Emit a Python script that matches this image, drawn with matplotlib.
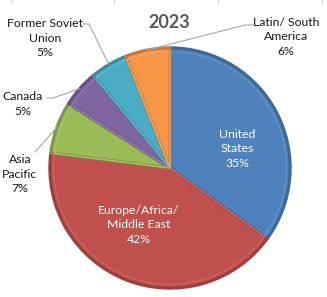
import numpy as np
import matplotlib.pyplot as plt
import matplotlib.colors as mcolors

# data
regions = ["United\nStates", "Europe/Africa/\nMiddle East", "Asia\nPacific",
           "Canada", "Former Soviet\nUnion", "Latin/ South\nAmerica"]
shares = [35, 42, 7, 5, 5, 6]
title = "2023"

colors = ["#4F81BD", "#C0504D", "#9BBB59", "#8064A2", "#4BACC6", "#F79646"]

def shade(c, f):
    r, g, b = mcolors.to_rgb(c)
    if f < 1:
        return (r * f, g * f, b * f)
    return tuple(v + (1 - v) * (f - 1) for v in (r, g, b))

# pixel layout of the original (center, radius)
W, H = 327, 297
cx, cy, R = 170, 168, 122

def px(x, y):
    return ((x - cx) / R, (cy - y) / R)

fig = plt.figure(figsize=(W / 100, H / 100), dpi=100)
ax = fig.add_axes([0, 0, 1, 1])

wedges, _ = ax.pie(shares, colors=colors, startangle=90, counterclock=False,
                   radius=0.985,
                   wedgeprops=dict(linewidth=2.2, joinstyle="round"))
for w, c in zip(wedges, colors):
    w.set_edgecolor(shade(c, 0.8))

# soft inner bevel like the Excel style
inner, _ = ax.pie(shares, colors=["none"] * len(shares), startangle=90,
                  counterclock=False, radius=0.955,
                  wedgeprops=dict(linewidth=1.0, fill=False))
for w, c in zip(inner, colors):
    w.set_edgecolor(shade(c, 1.12))

# pie() resets the limits, so set them afterwards
ax.set_xlim(-cx / R, (W - cx) / R)
ax.set_ylim(-(H - cy) / R, cy / R)
ax.set_aspect("equal")
ax.axis("off")

font = "Lato"
labels = [f"{r}\n{s}%" for r, s in zip(regions, shares)]

# inside labels (white)
inside = {0: (237, 149), 1: (139, 225)}
# outside labels: text center, elbow start of leader line
outside = {2: ((20, 174), (35, 152)),
           3: ((23, 104), (53, 98)),
           4: ((45, 38), (89, 24)),
           5: ((286, 37), (245, 25))}

for i, (x, y) in inside.items():
    ax.text(*px(x, y), labels[i], ha="center", va="center", color="white",
            fontsize=8.8, family=font, linespacing=1.4)

for i, ((tx, ty), (lx, ly)) in outside.items():
    ax.text(*px(tx, ty), labels[i], ha="center", va="center", color="#1a1a1a",
            fontsize=8.8, family=font, linespacing=1.4)
    w = wedges[i]
    mid = np.deg2rad((w.theta1 + w.theta2) / 2)
    ex, ey = np.cos(mid) * 0.985, np.sin(mid) * 0.985
    sx, sy = px(lx, ly)
    pts_x, pts_y = [sx, ex], [sy, ey]
    if i in (3, 4):
        hx, _ = px(lx - 6, ly)
        pts_x, pts_y = [hx, sx, ex], [sy, sy, ey]
    elif i == 5:
        hx, _ = px(lx + 8, ly)
        pts_x, pts_y = [hx, sx, ex], [sy, sy, ey]
    ax.plot(pts_x, pts_y, color="#a6a6a6", linewidth=0.8)

ax.text(*px(169, 22), title, ha="center", va="center", color="#595959",
        fontsize=13, fontweight="bold", family=font)

# faint cell borders at the top edge
for x in (11, 114, 218, 322):
    fig.add_artist(plt.Line2D([x / W, x / W], [1 - 3 / H, 1], color="#d9d9d9",
                              linewidth=0.8))

fig.savefig("out.png", dpi=100)
